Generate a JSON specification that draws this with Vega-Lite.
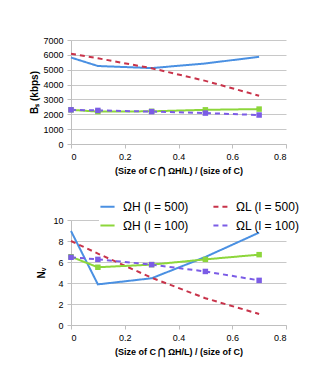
{
  "$schema": "https://vega.github.io/schema/vega-lite/v6.json",
  "padding": {"left": 29, "top": 36, "right": 10, "bottom": 10},
  "background": "white",
  "datasets": {
    "bs": [
      {"x": 0, "s": "ΩH (l = 500)", "v": 5820},
      {"x": 0.1, "s": "ΩH (l = 500)", "v": 5250},
      {"x": 0.3, "s": "ΩH (l = 500)", "v": 5110},
      {"x": 0.5, "s": "ΩH (l = 500)", "v": 5420},
      {"x": 0.7, "s": "ΩH (l = 500)", "v": 5870},
      {"x": 0, "s": "ΩL (l = 500)", "v": 6080},
      {"x": 0.1, "s": "ΩL (l = 500)", "v": 5770},
      {"x": 0.3, "s": "ΩL (l = 500)", "v": 5100},
      {"x": 0.5, "s": "ΩL (l = 500)", "v": 4250},
      {"x": 0.7, "s": "ΩL (l = 500)", "v": 3250},
      {"x": 0, "s": "ΩH (l = 100)", "v": 2300},
      {"x": 0.1, "s": "ΩH (l = 100)", "v": 2180},
      {"x": 0.3, "s": "ΩH (l = 100)", "v": 2200},
      {"x": 0.5, "s": "ΩH (l = 100)", "v": 2300},
      {"x": 0.7, "s": "ΩH (l = 100)", "v": 2350},
      {"x": 0, "s": "ΩL (l = 100)", "v": 2300},
      {"x": 0.1, "s": "ΩL (l = 100)", "v": 2260},
      {"x": 0.3, "s": "ΩL (l = 100)", "v": 2180},
      {"x": 0.5, "s": "ΩL (l = 100)", "v": 2080},
      {"x": 0.7, "s": "ΩL (l = 100)", "v": 1950}
    ],
    "nv": [
      {"x": 0, "s": "ΩH (l = 500)", "v": 8.95},
      {"x": 0.1, "s": "ΩH (l = 500)", "v": 3.87},
      {"x": 0.3, "s": "ΩH (l = 500)", "v": 4.45},
      {"x": 0.5, "s": "ΩH (l = 500)", "v": 6.48},
      {"x": 0.7, "s": "ΩH (l = 500)", "v": 8.8},
      {"x": 0, "s": "ΩL (l = 500)", "v": 8.0},
      {"x": 0.1, "s": "ΩL (l = 500)", "v": 6.8},
      {"x": 0.3, "s": "ΩL (l = 500)", "v": 4.5},
      {"x": 0.5, "s": "ΩL (l = 500)", "v": 2.55},
      {"x": 0.7, "s": "ΩL (l = 500)", "v": 1.05},
      {"x": 0, "s": "ΩH (l = 100)", "v": 6.5},
      {"x": 0.1, "s": "ΩH (l = 100)", "v": 5.5},
      {"x": 0.3, "s": "ΩH (l = 100)", "v": 5.75},
      {"x": 0.5, "s": "ΩH (l = 100)", "v": 6.25},
      {"x": 0.7, "s": "ΩH (l = 100)", "v": 6.7},
      {"x": 0, "s": "ΩL (l = 100)", "v": 6.45},
      {"x": 0.1, "s": "ΩL (l = 100)", "v": 6.25},
      {"x": 0.3, "s": "ΩL (l = 100)", "v": 5.75},
      {"x": 0.5, "s": "ΩL (l = 100)", "v": 5.1},
      {"x": 0.7, "s": "ΩL (l = 100)", "v": 4.25}
    ]
  },
  "resolve": {"legend": {"color": "independent", "strokeDash": "independent"}},
  "spacing": 23,
  "vconcat": [
    {
      "width": 215,
      "height": 104,
      "data": {"name": "bs"},
      "encoding": {
        "x": {"field": "x", "type": "quantitative", "scale": {"domain": [0, 0.8]}, "axis": {"values": [0, 0.2, 0.4, 0.6, 0.8], "format": "~g", "grid": false, "title": "(Size of C ⋂ ΩH/L) / (size of C)", "titlePadding": 5}},
        "y": {"field": "v", "type": "quantitative", "scale": {"domain": [0, 7000]}, "axis": {"values": [0, 1000, 2000, 3000, 4000, 5000, 6000, 7000], "format": "d", "title": "Bₛ (kbps)", "titleFontSize": 10, "titlePadding": 3}},
        "color": {"field": "s", "type": "nominal", "scale": {"domain": ["ΩH (l = 500)", "ΩL (l = 500)", "ΩH (l = 100)", "ΩL (l = 100)"], "range": ["#4A90E2", "#C8334A", "#8DD63B", "#7B5CE6"]}, "legend": null}
      },
      "layer": [
        {
          "mark": {"type": "line", "strokeWidth": 2},
          "encoding": {
            "strokeDash": {"field": "s", "type": "nominal", "scale": {"domain": ["ΩH (l = 500)", "ΩL (l = 500)", "ΩH (l = 100)", "ΩL (l = 100)"], "range": [[1, 0], [5, 4], [1, 0], [5, 4]]}, "legend": null}
          }
        },
        {
          "transform": [{"filter": {"field": "s", "oneOf": ["ΩH (l = 100)", "ΩL (l = 100)"]}}],
          "mark": {"type": "point", "shape": "square", "filled": true, "size": 30, "opacity": 1}
        }
      ]
    },
    {
      "width": 215,
      "height": 105,
      "data": {"name": "nv"},
      "encoding": {
        "x": {"field": "x", "type": "quantitative", "scale": {"domain": [0, 0.8]}, "axis": {"values": [0, 0.2, 0.4, 0.6, 0.8], "format": "~g", "grid": false, "title": "(Size of C ⋂ ΩH/L) / (size of C)", "titlePadding": 5}},
        "y": {"field": "v", "type": "quantitative", "scale": {"domain": [0, 10]}, "axis": {"values": [0, 2, 4, 6, 8, 10], "title": "Nᵥ", "titleFontSize": 10, "titlePadding": 6}},
        "color": {"field": "s", "type": "nominal", "scale": {"domain": ["ΩH (l = 500)", "ΩL (l = 500)", "ΩH (l = 100)", "ΩL (l = 100)"], "range": ["#4A90E2", "#C8334A", "#8DD63B", "#7B5CE6"]},
          "legend": {"orient": "none", "legendX": 28, "legendY": -22, "columns": 2, "direction": "horizontal", "title": null, "symbolType": "stroke", "symbolSize": 200, "symbolStrokeWidth": 2, "labelFont": "Liberation Sans", "labelFontSize": 12, "labelColor": "#000", "labelOffset": 7, "columnPadding": 20, "rowPadding": 4, "fillColor": "white"}}
      },
      "layer": [
        {
          "mark": {"type": "line", "strokeWidth": 2},
          "encoding": {
            "strokeDash": {"field": "s", "type": "nominal", "scale": {"domain": ["ΩH (l = 500)", "ΩL (l = 500)", "ΩH (l = 100)", "ΩL (l = 100)"], "range": [[1, 0], [5, 4], [1, 0], [5, 4]]},
              "legend": {"orient": "none", "legendX": 28, "legendY": -22, "columns": 2, "direction": "horizontal", "title": null, "symbolType": "stroke", "symbolSize": 200, "symbolStrokeWidth": 2, "labelFont": "Liberation Sans", "labelFontSize": 12, "labelColor": "#000", "labelOffset": 7, "columnPadding": 20, "rowPadding": 4, "fillColor": "white"}}
          }
        },
        {
          "transform": [{"filter": {"field": "s", "oneOf": ["ΩH (l = 100)", "ΩL (l = 100)"]}}],
          "mark": {"type": "point", "shape": "square", "filled": true, "size": 30, "opacity": 1}
        }
      ]
    }
  ],
  "config": {
    "view": {"stroke": null},
    "axis": {"labelFont": "Liberation Sans", "labelFontSize": 9, "labelColor": "#000", "labelPadding": 4, "titleFont": "Liberation Sans", "titleFontSize": 9, "titleFontWeight": "bold", "titleColor": "#000", "gridColor": "#C8C8C8", "gridWidth": 1, "domainColor": "#BFBFBF", "domainWidth": 1, "tickColor": "#BFBFBF", "tickSize": 4}
  }
}
